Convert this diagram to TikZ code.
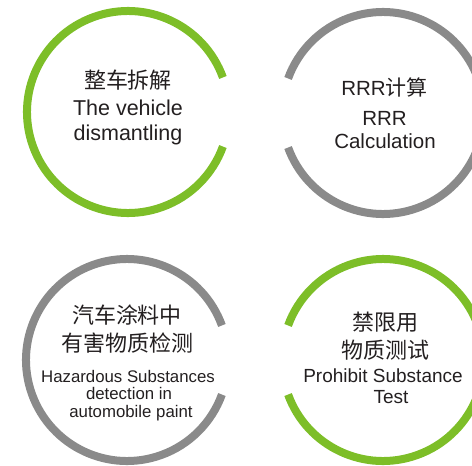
\documentclass[tikz,border=0pt]{standalone}
\usepackage{fontspec}
\setmainfont{Liberation Sans}
\newfontfamily\cjk{Noto Sans CJK SC}
\usepackage{tikz}
\definecolor{ringgreen}{RGB}{125,190,40}
\definecolor{ringgray}{RGB}{138,138,138}
\definecolor{inkdark}{RGB}{35,31,32}

\begin{document}
\begin{tikzpicture}[x=1pt,y=-1pt,
    greenring/.style={draw=ringgreen,line width=8pt},
    grayring/.style={draw=ringgray,line width=8pt},
    every node/.style={anchor=base,inner sep=0pt,text=inkdark},
    cn/.style={font=\cjk\fontsize{22}{22}\selectfont},
    enbig/.style={font=\fontsize{21.5}{21.5}\selectfont},
    enmid/.style={font=\fontsize{20.5}{20.5}\selectfont},
    ensmall/.style={font=\fontsize{16.8}{16.8}\selectfont},
    entest/.style={font=\fontsize{19}{19}\selectfont}]
  \useasboundingbox (0,0) rectangle (472,466);

  % the four rings
  \draw[greenring] (128,112) ++(20:101pt) arc (20:340:101pt);
  \draw[grayring] (383,113) ++(-160:101pt) arc (-160:160:101pt);
  \draw[grayring] (127,360) ++(20:101pt) arc (20:340:101pt);
  \draw[greenring] (383,360) ++(-160:101pt) arc (-160:160:101pt);

  \draw (128,88) node[cn] (zhengche) {整车拆解};
  \draw (128,115) node[enbig] (vehicle) {The vehicle};
  \draw (128,140) node[enbig] (dismantling) {dismantling};

  \draw (384.5,95) node[enmid] (rrrcn) {RRR{\cjk\fontsize{21}{21}\selectfont 计算}};
  \draw (384.5,125) node[enmid] (rrr) {RRR};
  \draw (385,148) node[enmid] (calculation) {Calculation};

  \draw (127,323) node[cn] (qiche) {汽车涂料中};
  \draw (127.5,351) node[cn] (youhai) {有害物质检测};
      \draw (128,382) node[ensmall] (hazardous) {Hazardous Substances};
      \draw (129,399) node[ensmall] (detection) {detection in};
      \draw (131,417) node[ensmall] (paint) {automobile paint};

  \draw (385,330) node[cn] (jinxian) {禁限用};
  \draw (385,358) node[cn] (wuzhi) {物质测试};
      \draw (383,382) node[entest] (prohibit) {Prohibit Substance};
      \draw (391,403) node[entest] (test) {Test};

\end{tikzpicture}
\end{document}
